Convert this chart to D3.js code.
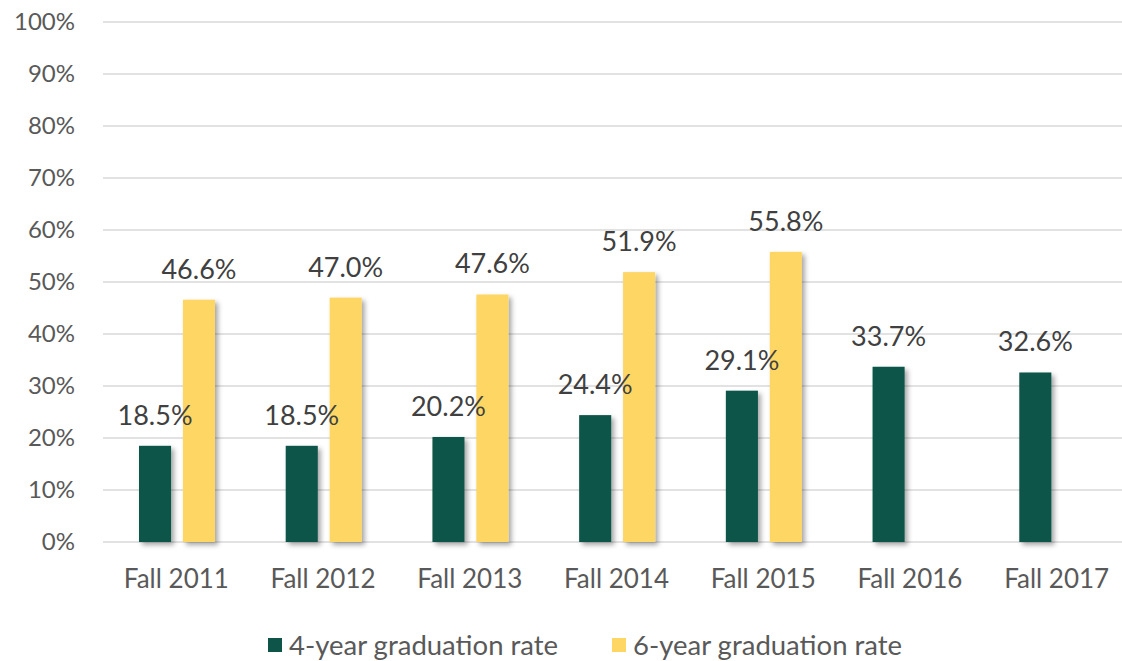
<!DOCTYPE html>
<html>
<head>
<meta charset="utf-8">
<script src="https://cdn.jsdelivr.net/npm/d3@7"></script>
<style>
  body { margin: 0; background: #fff; }
  svg { display: block; font-family: Lato, "Open Sans", sans-serif; }
</style>
</head>
<body>
<svg width="1122" height="661"></svg>
<script>
// chart data
var terms = ["Fall 2011", "Fall 2012", "Fall 2013", "Fall 2014", "Fall 2015", "Fall 2016", "Fall 2017"];
var rate4 = [18.5, 18.5, 20.2, 24.4, 29.1, 33.7, 32.6];
var rate6 = [46.6, 47.0, 47.6, 51.9, 55.8, null, null];
var seriesNames = ["4-year graduation rate", "6-year graduation rate"];
var yTicks = [0, 10, 20, 30, 40, 50, 60, 70, 80, 90, 100];

var colors = ["#0e5448", "#fed664"];

var svg = d3.select("svg");

// shadow for the bars, like the excel one
var defs = svg.append("defs");
var f = defs.append("filter").attr("id", "shadow")
    .attr("x", "-30%").attr("y", "-10%").attr("width", "160%").attr("height", "130%");
f.append("feDropShadow")
    .attr("dx", 3).attr("dy", 3).attr("stdDeviation", 2.5)
    .attr("flood-color", "#000").attr("flood-opacity", 0.35);

// plot box (don't call it "top", window.top is taken)
var plotL = 103, plotR = 1130, plotT = 22, plotB = 542;

var x = d3.scaleBand().domain(terms).range([plotL, plotR]);
var xs = d3.scaleBand().domain([0, 1]).range([36, 112]).paddingInner(0.27);
var y = d3.scaleLinear().domain([0, 100]).range([plotB, plotT]);

// gridlines
svg.append("g")
  .selectAll("line")
  .data(yTicks)
  .enter()
  .append("line")
    .attr("x1", plotL)
    .attr("x2", 1122)
    .attr("y1", function(d) { return y(d); })
    .attr("y2", function(d) { return y(d); })
    .attr("stroke", "#d9d9d9")
    .attr("stroke-width", 1.5);

// y axis labels
var yAxis = d3.axisLeft(y).tickValues(yTicks).tickSize(0).tickPadding(0)
    .tickFormat(function(d) { return d + "%"; });
var gy = svg.append("g")
    .attr("transform", "translate(75,0)")
    .call(yAxis);
gy.select(".domain").remove();
gy.selectAll("text")
    .attr("fill", "#595959")
    .style("font-size", "24px")
    .style("font-family", "Lato, sans-serif");

// x axis labels
var xAxis = d3.axisBottom(x).tickSize(0).tickPadding(0);
var gx = svg.append("g")
    .attr("transform", "translate(0,570)")
    .call(xAxis);
gx.select(".domain").remove();
gx.selectAll("text")
    .attr("fill", "#595959")
    .style("font-size", "26px")
    .style("font-family", "Lato, sans-serif");

// bars first, labels after so they sit on top of the yellow bars
var series = [rate4, rate6];
var points = series.map(function(vals) {
  return terms.map(function(t, i) { return {term: t, v: vals[i]}; })
              .filter(function(d) { return d.v != null; });
});

var barLayer = svg.append("g");
var labelLayer = svg.append("g");

points.forEach(function(pts, si) {
  barLayer.append("g")
    .selectAll("rect")
    .data(pts)
    .enter()
    .append("rect")
      .attr("x", function(d) { return x(d.term) + xs(si); })
      .attr("y", function(d) { return y(d.v); })
      .attr("width", xs.bandwidth())
      .attr("height", function(d) { return y(0) - y(d.v); })
      .attr("fill", colors[si])
      .attr("filter", "url(#shadow)");

  labelLayer.append("g")
    .selectAll("text")
    .data(pts)
    .enter()
    .append("text")
      .attr("x", function(d) { return x(d.term) + xs(si) + xs.bandwidth() / 2; })
      .attr("y", function(d) { return y(d.v) - 21; })
      .attr("text-anchor", "middle")
      .attr("fill", "#404040")
      .style("font-size", "27px")
      .text(function(d) { return d.v.toFixed(1) + "%"; });
});

// legend
var legendX = [268, 612];
var leg = svg.append("g")
  .selectAll("g")
  .data(seriesNames)
  .enter()
  .append("g")
    .attr("transform", function(d, i) { return "translate(" + legendX[i] + ",645)"; });

leg.append("rect")
    .attr("x", 0).attr("y", -7)
    .attr("width", 14).attr("height", 14)
    .attr("fill", function(d, i) { return colors[i]; });

leg.append("text")
    .attr("x", 21)
    .attr("dy", "0.35em")
    .attr("fill", "#595959")
    .style("font-size", "27.5px")
    .text(function(d) { return d; });
</script>
</body>
</html>
